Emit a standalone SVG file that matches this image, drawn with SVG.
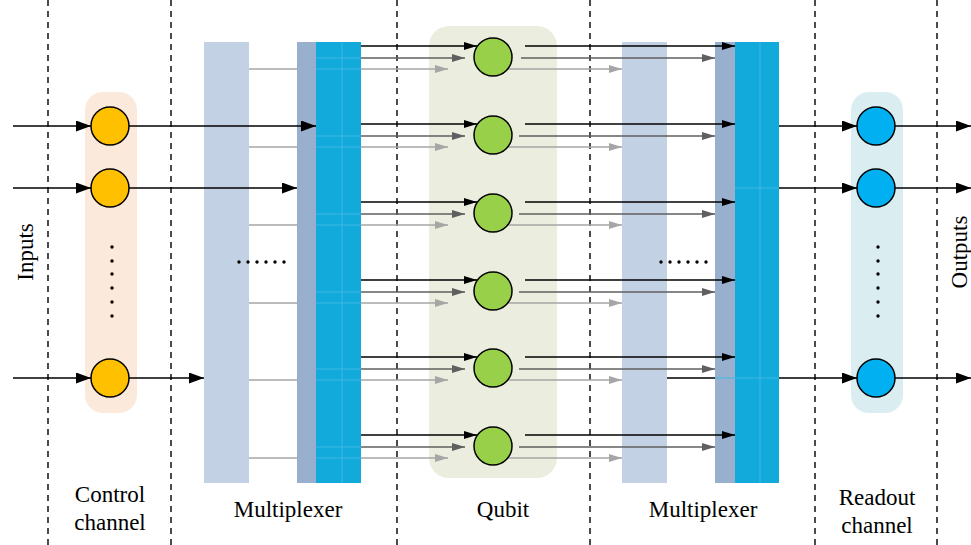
<svg xmlns="http://www.w3.org/2000/svg" width="971" height="545" viewBox="0 0 971 545">
<style>
.dash{stroke:#000;stroke-width:1.4;stroke-dasharray:6,5;fill:none}
.lb{fill:#C2D1E4}
.db{fill:#98AFCD}
.cy{fill:#12AADB}
.faint{stroke:#3FB8E2;stroke-width:1;fill:none}
.bk{stroke:#000;stroke-width:1.5;fill:none}
.dg{stroke:#5F5F5F;stroke-width:1.5;fill:none}
.lg{stroke:#A6A6A6;stroke-width:1.5;fill:none}
.ctl{fill:#FFC000;stroke:#000;stroke-width:1.5}
.qb{fill:#98D04A;stroke:#000;stroke-width:1.5}
.ro{fill:#00B0F0;stroke:#000;stroke-width:1.5}
.lbl{font-family:"Liberation Serif","Times New Roman",serif;font-size:23px;fill:#000}
.dot{fill:#000}
</style>
<defs>
<marker id="aB" markerUnits="userSpaceOnUse" markerWidth="13" markerHeight="8" viewBox="0 0 13 8" refX="13" refY="4" orient="auto"><path d="M0,0 L13,4 L0,8 z" fill="#000"/></marker>
<marker id="aBL" markerUnits="userSpaceOnUse" markerWidth="15" markerHeight="11" viewBox="0 0 15 11" refX="15" refY="5.5" orient="auto"><path d="M0,0 L15,5.5 L0,11 z" fill="#000"/></marker>
<marker id="aD" markerUnits="userSpaceOnUse" markerWidth="13" markerHeight="8" viewBox="0 0 13 8" refX="13" refY="4" orient="auto"><path d="M0,0 L13,4 L0,8 z" fill="#5F5F5F"/></marker>
<marker id="aL" markerUnits="userSpaceOnUse" markerWidth="13" markerHeight="8" viewBox="0 0 13 8" refX="13" refY="4" orient="auto"><path d="M0,0 L13,4 L0,8 z" fill="#A6A6A6"/></marker>
</defs>
<rect width="971" height="545" fill="#fff"/>

<g id="dividers">
<line class="dash" x1="48" y1="0" x2="48" y2="545"/>
<line class="dash" x1="171" y1="0" x2="171" y2="545"/>
<line class="dash" x1="397" y1="0" x2="397" y2="545"/>
<line class="dash" x1="590" y1="0" x2="590" y2="545"/>
<line class="dash" x1="815" y1="0" x2="815" y2="545"/>
<line class="dash" x1="937" y1="0" x2="937" y2="545"/>
</g>

<g id="control-channel">
<rect x="85" y="92" width="52" height="321" rx="18" fill="#FBEADB"/>
<circle class="ctl" cx="110" cy="126" r="19"/>
<circle class="ctl" cx="110" cy="188" r="19"/>
<circle class="ctl" cx="110" cy="378" r="19"/>
<circle class="dot" cx="112" cy="247" r="1.7"/>
<circle class="dot" cx="112" cy="261" r="1.7"/>
<circle class="dot" cx="112" cy="274" r="1.7"/>
<circle class="dot" cx="112" cy="288" r="1.7"/>
<circle class="dot" cx="112" cy="302" r="1.7"/>
<circle class="dot" cx="112" cy="316" r="1.7"/>
</g>

<g id="multiplexer-1">
<rect class="lb" x="204" y="42" width="45" height="441"/>
<rect class="db" x="297" y="42" width="19" height="441"/>
<rect class="cy" x="316" y="42" width="45" height="441"/>
<path class="faint" d="M342,42 V483 M316,58 H361 M316,69 H361 M316,136 H361 M316,147 H361 M316,214 H361 M316,225 H361 M316,292 H361 M316,303 H361 M316,369 H361 M316,380 H361 M316,447 H361 M316,458 H361"/>
<circle class="dot" cx="239" cy="262" r="1.7"/>
<circle class="dot" cx="248" cy="262" r="1.7"/>
<circle class="dot" cx="257" cy="262" r="1.7"/>
<circle class="dot" cx="266" cy="262" r="1.7"/>
<circle class="dot" cx="275" cy="262" r="1.7"/>
<circle class="dot" cx="284" cy="262" r="1.7"/>
</g>

<g id="qubit">
<rect x="429" y="26" width="128" height="452" rx="20" fill="#EBEEDF"/>
<circle class="qb" cx="493" cy="57" r="19"/>
<circle class="qb" cx="493" cy="135" r="19"/>
<circle class="qb" cx="493" cy="213" r="19"/>
<circle class="qb" cx="493" cy="291" r="19"/>
<circle class="qb" cx="493" cy="368" r="19"/>
<circle class="qb" cx="493" cy="446" r="19"/>
</g>

<g id="multiplexer-2">
<rect class="lb" x="622" y="42" width="45" height="441"/>
<rect class="db" x="715" y="42" width="20" height="441"/>
<rect class="cy" x="735" y="42" width="44" height="441"/>
<path class="faint" d="M760,42 V483 M735,188 H779 M715,378 H779"/>
<circle class="dot" cx="661" cy="262" r="1.7"/>
<circle class="dot" cx="670" cy="262" r="1.7"/>
<circle class="dot" cx="679" cy="262" r="1.7"/>
<circle class="dot" cx="688" cy="262" r="1.7"/>
<circle class="dot" cx="697" cy="262" r="1.7"/>
<circle class="dot" cx="706" cy="262" r="1.7"/>
</g>

<g id="readout-channel">
<rect x="851" y="92" width="52" height="321" rx="18" fill="#DAEEF1"/>
<circle class="ro" cx="876" cy="126" r="19"/>
<circle class="ro" cx="876" cy="188" r="19"/>
<circle class="ro" cx="876" cy="378" r="19"/>
<circle class="dot" cx="878" cy="247" r="1.7"/>
<circle class="dot" cx="878" cy="261" r="1.7"/>
<circle class="dot" cx="878" cy="274" r="1.7"/>
<circle class="dot" cx="878" cy="288" r="1.7"/>
<circle class="dot" cx="878" cy="302" r="1.7"/>
<circle class="dot" cx="878" cy="316" r="1.7"/>
</g>

<g id="connectors">
<path class="bk" marker-end="url(#aBL)" d="M13,126 H91"/>
<path class="bk" marker-end="url(#aBL)" d="M13,188 H91"/>
<path class="bk" marker-end="url(#aBL)" d="M13,378 H91"/>
<path class="bk" marker-end="url(#aBL)" d="M129,126 H316"/>
<path class="bk" marker-end="url(#aBL)" d="M129,188 H297"/>
<path class="bk" marker-end="url(#aBL)" d="M129,378 H204"/>

<path class="bk" marker-end="url(#aB)" d="M361,46 H477"/>
<path class="dg" marker-end="url(#aD)" d="M361,58 H465"/>
<path class="lg" marker-end="url(#aL)" d="M249,69 H297 M361,69 H448"/>
<path class="bk" marker-end="url(#aB)" d="M361,124 H477"/>
<path class="dg" marker-end="url(#aD)" d="M361,136 H465"/>
<path class="lg" marker-end="url(#aL)" d="M249,147 H297 M361,147 H448"/>
<path class="bk" marker-end="url(#aB)" d="M361,202 H477"/>
<path class="dg" marker-end="url(#aD)" d="M361,214 H465"/>
<path class="lg" marker-end="url(#aL)" d="M249,225 H297 M361,225 H448"/>
<path class="bk" marker-end="url(#aB)" d="M361,280 H477"/>
<path class="dg" marker-end="url(#aD)" d="M361,292 H465"/>
<path class="lg" marker-end="url(#aL)" d="M249,303 H297 M361,303 H448"/>
<path class="bk" marker-end="url(#aB)" d="M361,357 H477"/>
<path class="dg" marker-end="url(#aD)" d="M361,369 H465"/>
<path class="lg" marker-end="url(#aL)" d="M249,380 H297 M361,380 H448"/>
<path class="bk" marker-end="url(#aB)" d="M361,435 H477"/>
<path class="dg" marker-end="url(#aD)" d="M361,447 H465"/>
<path class="lg" marker-end="url(#aL)" d="M249,458 H297 M361,458 H448"/>

<path class="bk" marker-end="url(#aB)" d="M525,46 H735"/>
<path class="dg" marker-end="url(#aD)" d="M521,58 H715"/>
<path class="lg" marker-end="url(#aL)" d="M509,69 H622"/>
<path class="bk" marker-end="url(#aB)" d="M525,124 H735"/>
<path class="dg" marker-end="url(#aD)" d="M519,136 H715"/>
<path class="lg" marker-end="url(#aL)" d="M509,147 H622"/>
<path class="bk" marker-end="url(#aB)" d="M525,202 H735"/>
<path class="dg" marker-end="url(#aD)" d="M519,214 H715"/>
<path class="lg" marker-end="url(#aL)" d="M509,225 H622"/>
<path class="bk" marker-end="url(#aB)" d="M525,280 H735"/>
<path class="dg" marker-end="url(#aD)" d="M519,292 H715"/>
<path class="lg" marker-end="url(#aL)" d="M509,303 H622"/>
<path class="bk" marker-end="url(#aB)" d="M525,357 H735"/>
<path class="dg" marker-end="url(#aD)" d="M519,369 H715"/>
<path class="lg" marker-end="url(#aL)" d="M509,380 H622"/>
<path class="bk" marker-end="url(#aB)" d="M525,435 H735"/>
<path class="dg" marker-end="url(#aD)" d="M519,447 H715"/>
<path class="lg" marker-end="url(#aL)" d="M509,458 H622"/>

<path class="bk" marker-end="url(#aBL)" d="M779,126 H857"/>
<path class="bk" marker-end="url(#aBL)" d="M779,188 H857"/>
<path class="bk" marker-end="url(#aBL)" d="M667,378 H715 M779,378 H857"/>
<path class="bk" marker-end="url(#aBL)" d="M895,126 H971"/>
<path class="bk" marker-end="url(#aBL)" d="M895,188 H971"/>
<path class="bk" marker-end="url(#aBL)" d="M895,378 H971"/>
</g>

<g id="labels">
<text class="lbl" transform="translate(33,252) rotate(-90)" text-anchor="middle">Inputs</text>
<text class="lbl" transform="translate(967,252) rotate(-90)" text-anchor="middle">Outputs</text>
<text class="lbl" x="110" y="502" text-anchor="middle">Control</text>
<text class="lbl" x="110" y="530" text-anchor="middle">channel</text>
<text class="lbl" x="288" y="517" text-anchor="middle">Multiplexer</text>
<text class="lbl" x="503" y="517" text-anchor="middle">Qubit</text>
<text class="lbl" x="703" y="517" text-anchor="middle">Multiplexer</text>
<text class="lbl" x="877" y="505" text-anchor="middle">Readout</text>
<text class="lbl" x="877" y="533" text-anchor="middle">channel</text>
</g>
</svg>
